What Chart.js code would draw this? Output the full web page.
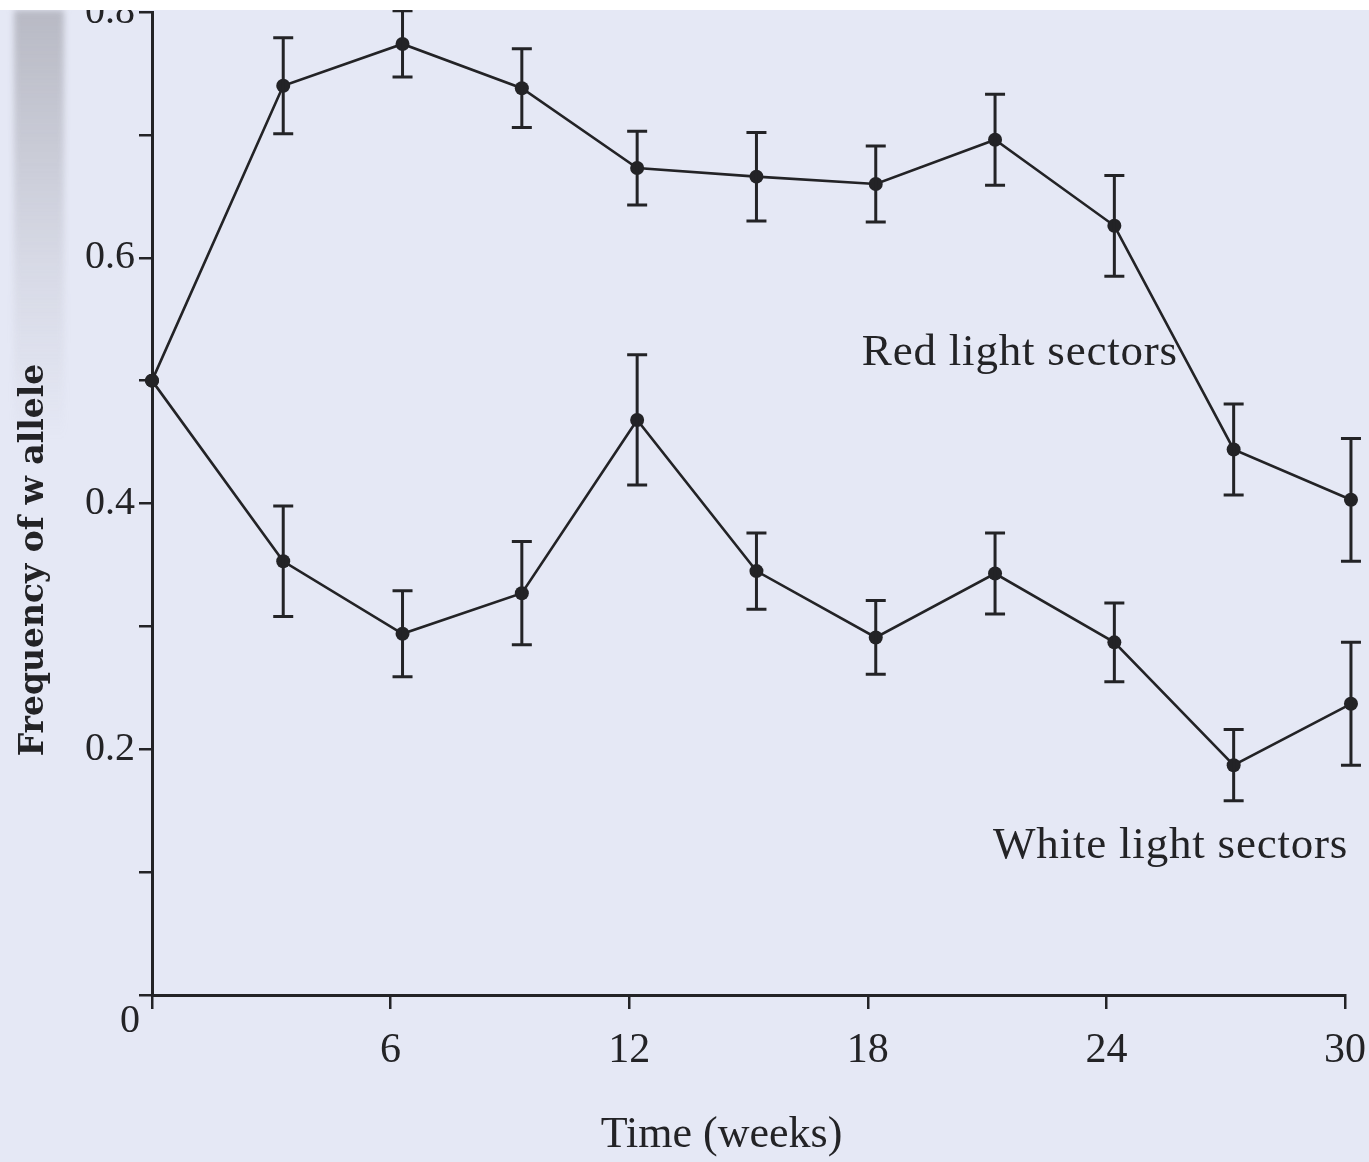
<!DOCTYPE html>
<html>
<head>
<meta charset="utf-8">
<script src="https://cdn.jsdelivr.net/npm/chart.js@4/dist/chart.umd.min.js"></script>
<style>
  html, body { margin: 0; padding: 0; background: #ffffff; }
  #wrap { position: absolute; left: 0; top: 10px; width: 1369px; height: 1152px;
          background: #e5e8f5; overflow: hidden; }
  #edge { position: absolute; left: 14px; top: 0; width: 50px; height: 430px;
          background: linear-gradient(to bottom, rgba(140,140,148,0.5), rgba(170,170,180,0.22) 60%, rgba(229,232,245,0));
          filter: blur(3px); }
  canvas { position: absolute; left: 0; top: -5px; }
</style>
</head>
<body>
<div id="wrap">
  <div id="edge"></div>
  <canvas id="c" width="1369" height="1157"></canvas>
</div>
<script>
// Sampling times (weeks) and w-allele frequencies with error-bar half-widths
const weeks      = [0, 3.3, 6.3, 9.3, 12.2, 15.2, 18.2, 21.2, 24.2, 27.2, 30.15];
const redFreq    = [0.50, 0.740, 0.774, 0.738, 0.673, 0.666, 0.660, 0.696, 0.626, 0.444, 0.403];
const redErr     = [0, 0.039, 0.027, 0.032, 0.030, 0.036, 0.031, 0.037, 0.041, 0.037, 0.050];
const whiteFreq  = [0.50, 0.353, 0.294, 0.327, 0.468, 0.345, 0.291, 0.343, 0.287, 0.187, 0.237];
const whiteErr   = [0, 0.045, 0.035, 0.042, 0.053, 0.031, 0.030, 0.033, 0.032, 0.029, 0.050];

const xTicks = [6, 12, 18, 24, 30];
const yTickLabels = [0.2, 0.4, 0.6, 0.8];

// Series captions, anchored (left, baseline) in data coordinates
const seriesNames = ['Red light sectors', 'White light sectors'];
const captionAt = [{ x: 17.85, y: 0.513 }, { x: 21.15, y: 0.1115 }];

const xTitle = 'Time (weeks)';
const yTitle = 'Frequency of w allele';

const INK = '#232326';
const SERIF = '"Liberation Serif", "DejaVu Serif", serif';

const toPoints = (ys) => weeks.map((w, i) => ({ x: w, y: ys[i] }));

const errorBars = {
  id: 'errorBars',
  afterDatasetsDraw(chart) {
    const { ctx } = chart;
    const y = chart.scales.y;
    chart.data.datasets.forEach((ds, i) => {
      const meta = chart.getDatasetMeta(i);
      meta.data.forEach((pt, j) => {
        const e = ds.errors[j];
        if (!e) return;
        const v = ds.data[j].y;
        const top = y.getPixelForValue(v + e);
        const bot = y.getPixelForValue(v - e);
        ctx.save();
        ctx.strokeStyle = INK;
        ctx.lineWidth = 3;
        ctx.beginPath();
        ctx.moveTo(pt.x, top); ctx.lineTo(pt.x, bot);
        ctx.moveTo(pt.x - 10, top); ctx.lineTo(pt.x + 10, top);
        ctx.moveTo(pt.x - 10, bot); ctx.lineTo(pt.x + 10, bot);
        ctx.stroke();
        ctx.restore();
      });
    });
  }
};

const captions = {
  id: 'captions',
  afterDraw(chart) {
    const { ctx, chartArea } = chart;
    const x = chart.scales.x, y = chart.scales.y;
    ctx.save();
    ctx.fillStyle = INK;
    ctx.font = '45px ' + SERIF;
    ctx.letterSpacing = '0.8px';
    ctx.textAlign = 'left';
    ctx.textBaseline = 'alphabetic';
    seriesNames.forEach((name, i) => {
      ctx.fillText(name, x.getPixelForValue(captionAt[i].x), y.getPixelForValue(captionAt[i].y));
    });
    ctx.letterSpacing = '0px';
    // origin label
    ctx.textAlign = 'center';
    ctx.textBaseline = 'middle';
    ctx.font = '40px ' + SERIF;
    ctx.fillText('0', x.getPixelForValue(0) - 22, y.getPixelForValue(0) + 26);
    // horizontal axis title
    ctx.font = '44px ' + SERIF;
    ctx.textBaseline = 'alphabetic';
    ctx.fillText(xTitle, (chartArea.left + chartArea.right) / 2 - 27, chartArea.bottom + 152);
    // vertical axis title
    ctx.translate(34, 555);
    ctx.rotate(-Math.PI / 2);
    ctx.textBaseline = 'middle';
    ctx.font = 'bold 33px "DejaVu Serif", serif';
    ctx.fillText(yTitle, 0, 0);
    ctx.restore();
  }
};

new Chart(document.getElementById('c'), {
  type: 'line',
  data: {
    datasets: [
      { label: seriesNames[0], data: toPoints(redFreq), errors: redErr },
      { label: seriesNames[1], data: toPoints(whiteFreq), errors: whiteErr }
    ].map(d => Object.assign(d, {
      borderColor: INK, borderWidth: 2.6, backgroundColor: INK,
      pointRadius: 7, pointBorderWidth: 0, pointBackgroundColor: INK,
      tension: 0, clip: false
    }))
  },
  options: {
    responsive: false,
    animation: false,
    events: [],
    layout: { padding: { left: 0, right: 24, top: 2, bottom: 0 } },
    plugins: { legend: { display: false }, tooltip: { enabled: false } },
    scales: {
      x: {
        type: 'linear', min: 0, max: 30,
        afterBuildTicks: (s) => { s.ticks = [0].concat(xTicks).map(v => ({ value: v })); },
        ticks: {
          callback: (v) => (xTicks.includes(v) ? String(v) : ''),
          font: { family: SERIF, size: 42 }, color: INK, padding: 17, maxRotation: 0
        },
        grid: { drawOnChartArea: false, drawTicks: true, tickLength: 14, color: INK, lineWidth: 2.5 },
        border: { color: INK, width: 3 },
        afterFit: (s) => { s.height = 167; s.paddingLeft = 0; s.paddingRight = 0; }
      },
      y: {
        min: 0, max: 0.8,
        ticks: {
          stepSize: 0.1,
          callback: (v) => {
            const t = Math.round(v * 10) / 10;
            return yTickLabels.some(l => Math.abs(l - t) < 1e-6) ? t.toFixed(1) : '';
          },
          font: { family: SERIF, size: 40 }, color: INK, padding: 4
        },
        grid: { drawOnChartArea: false, drawTicks: true, tickLength: 13, color: INK, lineWidth: 2.5 },
        border: { color: INK, width: 3 },
        afterFit: (s) => { s.width = 152; s.paddingTop = 0; s.paddingBottom = 0; }
      }
    }
  },
  plugins: [errorBars, captions]
});
</script>
</body>
</html>
